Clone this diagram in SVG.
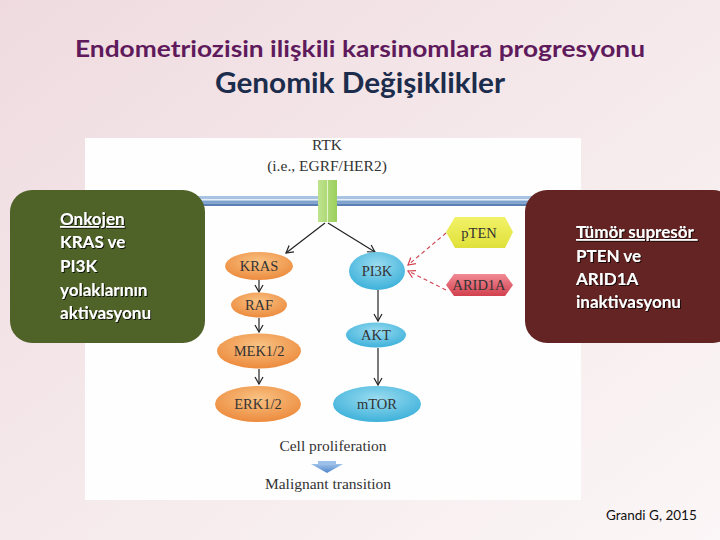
<svg xmlns="http://www.w3.org/2000/svg" width="720" height="540" viewBox="0 0 720 540">
<defs>
<linearGradient id="bg" x1="0" y1="0" x2="1" y2="1">
<stop offset="0" stop-color="#efdbdf"/>
<stop offset="0.5" stop-color="#f5e9eb"/>
<stop offset="1" stop-color="#fbf6f7"/>
</linearGradient>
<radialGradient id="org" cx="0.5" cy="0.35" r="0.65">
<stop offset="0" stop-color="#f9c283"/>
<stop offset="1" stop-color="#ec8b3e"/>
</radialGradient>
<radialGradient id="blu" cx="0.5" cy="0.35" r="0.65">
<stop offset="0" stop-color="#9adcf0"/>
<stop offset="1" stop-color="#3eb1da"/>
</radialGradient>
<linearGradient id="rtk" x1="0" y1="0" x2="1" y2="0">
<stop offset="0" stop-color="#bfe38f"/>
<stop offset="1" stop-color="#9ccf5c"/>
</linearGradient>
<linearGradient id="yel" x1="0" y1="0" x2="0" y2="1">
<stop offset="0" stop-color="#f2f268"/>
<stop offset="1" stop-color="#e0e03a"/>
</linearGradient>
<linearGradient id="red" x1="0" y1="0" x2="0" y2="1">
<stop offset="0" stop-color="#f08a95"/>
<stop offset="1" stop-color="#d2404e"/>
</linearGradient>
<linearGradient id="blk" x1="0" y1="0" x2="0" y2="1">
<stop offset="0" stop-color="#9cc0e8"/>
<stop offset="1" stop-color="#4f86cc"/>
</linearGradient>
<marker id="ah" markerWidth="10" markerHeight="10" refX="8" refY="5" orient="auto" markerUnits="userSpaceOnUse">
<path d="M1,1 L8,5 L1,9" fill="none" stroke="#222" stroke-width="1.2"/>
</marker>
<marker id="ahr" markerWidth="10" markerHeight="10" refX="8" refY="5" orient="auto" markerUnits="userSpaceOnUse">
<path d="M1,1 L8,5 L1,9" fill="none" stroke="#d0404e" stroke-width="1.2"/>
</marker>
<filter id="sh" x="-5%" y="-5%" width="110%" height="110%">
<feDropShadow dx="1" dy="1" stdDeviation="0.4" flood-color="#000" flood-opacity="0.8"/>
</filter>
<style>
.serif{font-family:"Liberation Serif","DejaVu Serif",serif;fill:#333;}
.node{font-size:14.5px;text-anchor:middle;}
.box{font-family:"Lato","Liberation Sans",sans-serif;font-weight:bold;font-size:17px;fill:#fff;}
.conn{stroke:#222;stroke-width:1.2;fill:none;marker-end:url(#ah);}
.dash{stroke:#d0404e;stroke-width:1.1;fill:none;stroke-dasharray:4 3;marker-end:url(#ahr);}
.title{font-family:"Lato","Liberation Sans",sans-serif;font-weight:bold;text-anchor:middle;}
</style>
</defs>
<rect x="0" y="0" width="720" height="540" fill="url(#bg)"/>
<text class="title" x="360" y="57" font-size="23" fill="#5f1a5c" textLength="570" lengthAdjust="spacingAndGlyphs">Endometriozisin ilişkili karsinomlara progresyonu</text>
<text class="title" x="360" y="93" font-size="28" fill="#1c2c4c" textLength="290" lengthAdjust="spacingAndGlyphs">Genomik Değişiklikler</text>
<rect x="85" y="138" width="496" height="362" fill="#fefefe"/>
<g id="membrane">
<rect x="85" y="196" width="496" height="3" fill="#a9c4e2"/>
<rect x="85" y="199" width="496" height="1.5" fill="#e6eef8"/>
<rect x="85" y="200.5" width="496" height="3" fill="#7fa3cf"/>
<rect x="85" y="203.5" width="496" height="2.5" fill="#5a7fb3"/>
</g>
<g id="rtk">
<text class="serif" x="327" y="150" font-size="15.5" text-anchor="middle">RTK</text>
<text class="serif" x="327" y="171" font-size="15.5" text-anchor="middle">(i.e., EGRF/HER2)</text>
<rect x="318" y="180" width="19" height="42" fill="url(#rtk)"/>
<line x1="327.5" y1="180" x2="327.5" y2="222" stroke="#e4f4cc" stroke-width="1"/>
</g>
<g id="connectors">
<line class="conn" x1="325" y1="223" x2="286" y2="253"/>
<line class="conn" x1="328" y1="223" x2="375" y2="252"/>
<line class="conn" x1="259" y1="280" x2="259" y2="292"/>
<line class="conn" x1="259" y1="318" x2="259" y2="332"/>
<line class="conn" x1="259" y1="369" x2="259" y2="384"/>
<line class="conn" x1="378" y1="290" x2="378" y2="321"/>
<line class="conn" x1="378" y1="348" x2="378" y2="385"/>
<line class="dash" x1="446" y1="233" x2="408" y2="265"/>
<line class="dash" x1="446" y1="290" x2="408" y2="271"/>
</g>
<g id="kras"><ellipse cx="259" cy="266" rx="34" ry="14" fill="url(#org)"/><text class="serif node" x="259" y="271">KRAS</text></g>
<g id="raf"><ellipse cx="259" cy="305" rx="28" ry="12.5" fill="url(#org)"/><text class="serif node" x="259" y="310">RAF</text></g>
<g id="mek"><ellipse cx="259" cy="351" rx="42" ry="17.5" fill="url(#org)"/><text class="serif node" x="259" y="356">MEK1/2</text></g>
<g id="erk"><ellipse cx="258" cy="404" rx="43" ry="18" fill="url(#org)"/><text class="serif node" x="258" y="409">ERK1/2</text></g>
<g id="pi3k"><ellipse cx="377" cy="271" rx="28" ry="19" fill="url(#blu)"/><text class="serif node" x="377" y="276">PI3K</text></g>
<g id="akt"><ellipse cx="376" cy="335" rx="30" ry="12.5" fill="url(#blu)"/><text class="serif node" x="376" y="340">AKT</text></g>
<g id="mtor"><ellipse cx="377" cy="404" rx="44" ry="18" fill="url(#blu)"/><text class="serif node" x="377" y="409">mTOR</text></g>
<g id="pten"><polygon points="446,232 455,217 505,217 513,232 505,248 455,248" fill="url(#yel)"/><text class="serif node" x="479" y="238">pTEN</text></g>
<g id="arid1a"><polygon points="446,285 454,274 505,274 513,285 505,296 454,296" fill="url(#red)"/><text class="serif node" x="479" y="290">ARID1A</text></g>
<g id="outcome">
<text class="serif" x="333" y="451" font-size="15.5" text-anchor="middle">Cell proliferation</text>
<polygon points="311,464 343,464 327,473" fill="url(#blk)"/>
<rect x="318" y="461" width="18" height="4" fill="#9cc0e8"/>
<text class="serif" x="328" y="489" font-size="15.5" text-anchor="middle">Malignant transition</text>
</g>
<g id="onkojen">
<rect x="10" y="190" width="195" height="153" rx="22" fill="#4f6228"/>
<g class="box" filter="url(#sh)">
<text x="60" y="225" text-decoration="underline">Onkojen</text>
<text x="60" y="248">KRAS ve</text>
<text x="60" y="272">PI3K</text>
<text x="60" y="296">yolaklarının</text>
<text x="60" y="319">aktivasyonu</text>
</g>
</g>
<g id="supresor">
<rect x="525" y="190" width="210" height="153" rx="22" fill="#632423"/>
<g class="box" filter="url(#sh)" font-size="16.5">
<text x="576" y="238" text-decoration="underline" xml:space="preserve">Tümör supresör </text>
<text x="576" y="262">PTEN ve</text>
<text x="576" y="285">ARID1A</text>
<text x="576" y="308">inaktivasyonu</text>
</g>
</g>
<text x="606" y="520" font-family="Lato,'Liberation Sans',sans-serif" font-size="13.5" fill="#111">Grandi G, 2015</text>
</svg>
